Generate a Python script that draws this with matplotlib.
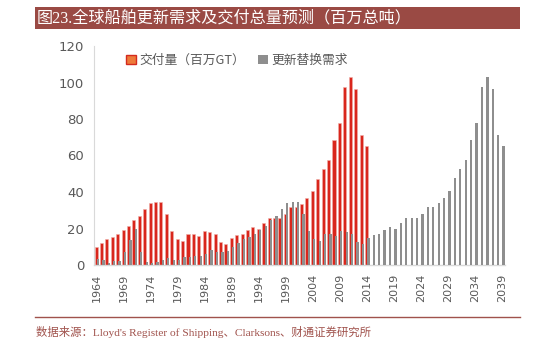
import matplotlib
matplotlib.use("Agg")
import matplotlib.pyplot as plt
import numpy as np
from matplotlib.patches import Rectangle

plt.rcParams['font.family'] = ['Noto Sans CJK SC', 'DejaVu Sans']

years = list(range(1964, 2040))
tick_years = list(range(1964, 2040, 5))

delivery_years = list(range(1964, 2015))
delivery = [10, 12, 14.4, 15.3, 17, 19, 21.2, 24.7, 27, 30.9,
            34, 34.5, 34.3, 27.8, 18.4, 14.4, 13.2, 17.2, 16.8, 16.1,
            18.6, 18.3, 16.8, 12.4, 11.3, 14.6, 16.2, 16.9, 19.2, 20.8,
            19.7, 22.8, 26, 26, 25.8, 28, 32, 31.6, 33.6, 36.5,
            40.5, 47.3, 52.6, 57.7, 68.3, 77.6, 97.4, 102.8, 96.4, 71.2,
            65.2]

replacement = [3.1, 3, 1.3, 2.2, 2.4, 7.1, 13.5, 20, 7, 1.7,
               1.3, 1.7, 2.5, 3.9, 3, 2.9, 4.2, 4.6, 4.7, 4.7,
               6.2, 8.2, 7.1, 7.1, 7.7,
               10, 11.8, 14.4, 15.2, 17, 19.3, 21.2, 24.7, 27.1, 30.9,
               34, 34.5, 34.3, 27.8, 18.4, 14.4, 13.3, 17, 17, 16,
               18.6, 18.3, 17, 12.4, 11.4, 14.6, 16.3, 17, 19.2, 20.8,
               19.7, 22.8, 26, 26, 25.9, 28, 32, 31.6, 33.7, 36.6,
               40.5, 47.4, 52.6, 57.8, 68.4, 77.8, 97.4, 102.8, 96.4, 71.1,
               65.2]

legend_labels = ['交付量（百万GT）', '更新替换需求']
title = '图23.全球船舶更新需求及交付总量预测（百万总吨）'
source = "数据来源：Lloyd's Register of Shipping、Clarksons、财通证券研究所"

W, H = 544, 348
fig = plt.figure(figsize=(W / 100, H / 100), dpi=100)
fig.patch.set_facecolor('white')

serif_cjk = ['Liberation Serif', 'Noto Sans CJK SC']

# title bar
fig.patches.append(Rectangle((35 / W, 1 - 29 / H), (520 - 35) / W, 22 / H,
                             transform=fig.transFigure, facecolor='#9A4A44',
                             edgecolor='none', zorder=0))
fig.text(37 / W, 1 - 18 / H, title, color='white', fontsize=11.6,
         va='center', ha='left', family=serif_cjk)

# bottom line and source
fig.add_artist(plt.Line2D([35 / W, 520 / W], [1 - 316.5 / H, 1 - 316.5 / H],
                          transform=fig.transFigure, color='#A0524C', lw=1.0))
fig.text(36 / W, 1 - 332 / H, source, color='#A0524C', fontsize=8.2,
         va='center', ha='left', family=serif_cjk)

ax = fig.add_axes([94 / W, 1 - 265 / H, (505 - 94) / W, (265 - 46) / H])

xr = np.array([y - 1964 for y in delivery_years])
xg = np.array([y - 1964 for y in years])
ax.bar(xr - 0.12, delivery, width=0.56, color='#D9261C', edgecolor='#F0B0A8',
       linewidth=0.4, zorder=2, label=legend_labels[0])
ax.bar(xg + 0.24, replacement, width=0.42, color='#8E8E8E', edgecolor='none',
       zorder=3, label=legend_labels[1])

ax.set_xlim(-0.5, len(years) - 0.5)
ax.set_ylim(0, 120)
ax.set_yticks(range(0, 121, 20))
ax.set_xticks([y - 1964 for y in tick_years])
ax.set_xticklabels([str(y) for y in tick_years], rotation=90,
                   fontfamily='DejaVu Sans')
ax.tick_params(axis='x', length=0, labelsize=8, colors='#595959', pad=6)
ax.tick_params(axis='y', length=0, labelsize=9.5, colors='#595959', pad=7)
for lab in ax.get_yticklabels():
    lab.set_fontfamily('DejaVu Sans')
for s in ['top', 'right']:
    ax.spines[s].set_visible(False)
ax.spines['left'].set_color('#D9D9D9')
ax.spines['bottom'].set_color('#D9D9D9')
ax.spines['bottom'].set_linewidth(1.0)
ax.set_facecolor('none')

leg = ax.legend(loc='upper left', bbox_to_anchor=(0.06, 1.0), ncol=2,
                frameon=False, fontsize=9.2, handlelength=0.75,
                handleheight=0.75, handletextpad=0.3, columnspacing=1.0,
                borderaxespad=0.2)
for t in leg.get_texts():
    t.set_color('#595959')
handles = leg.legend_handles
handles[0].set_facecolor('#EE7A3A')
handles[0].set_edgecolor('#D42A1E')
handles[0].set_linewidth(1.0)

fig.savefig('out.png', dpi=100)
